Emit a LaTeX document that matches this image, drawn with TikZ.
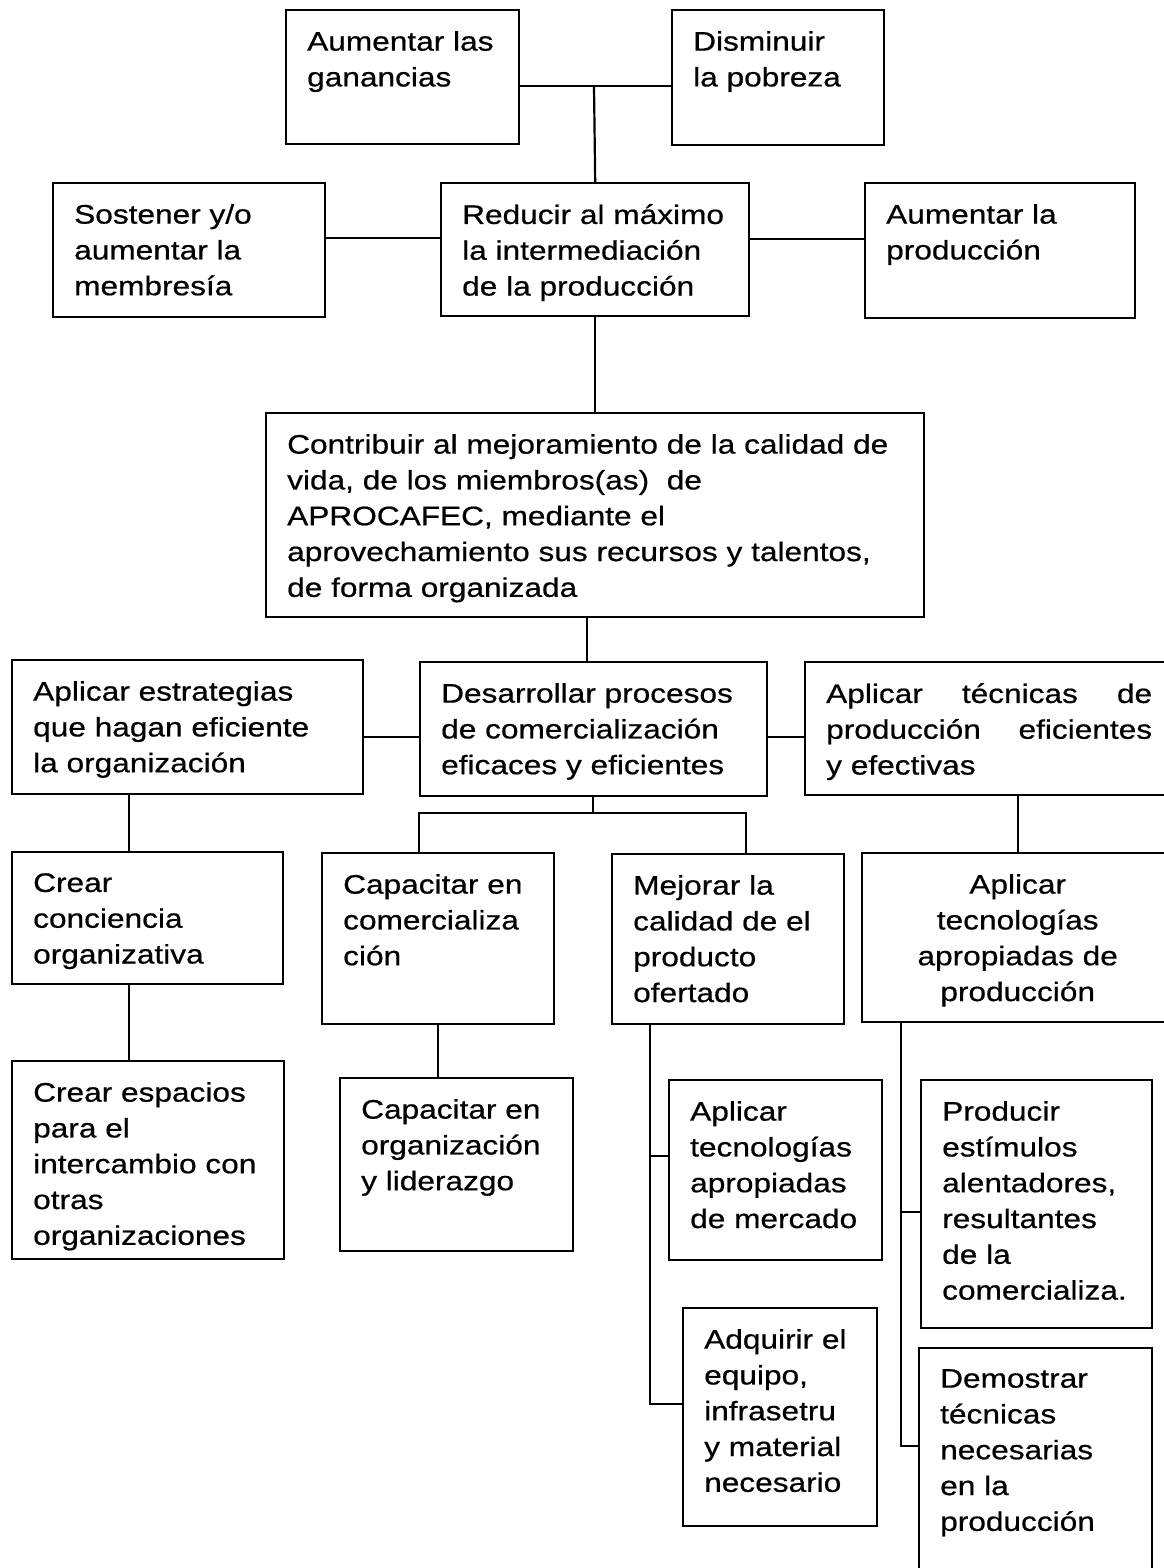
\documentclass[tikz,border=0pt]{standalone}
\usepackage{fontspec}
\setmainfont{Liberation Sans}[FakeStretch=1.18, FakeBold=0.6]
\newlength\obpadx \setlength\obpadx{21pt}
\newlength\obpadt \setlength\obpadt{21pt}
\newcommand\obfont{\fontsize{26.8}{35.8}\selectfont}
\newcommand\obrag{\leftskip=\obpadx\rightskip=0pt plus 1fil\parfillskip=0pt plus 1fil\relax}
\newcommand\obcen{\centering}
\newcommand\objus{\leftskip=\obpadx\rightskip=\obpadx\relax}
\tikzset{
  obox/.style={draw=black, line width=2.4pt, inner sep=0pt, anchor=north west, font=\obfont},
  conn/.style={draw=black, line width=2.2pt}
}
% #1 name, #2 x1, #3 y1, #4 x2, #5 y2, #6 alignment, #7 text
\newcommand\ob[7]{%
  \node[obox] (#1) at (#2,#3) {\parbox[c][\dimexpr #5pt-#3pt\relax][t]{\dimexpr #4pt-#2pt\relax}{\hbadness=10000\vspace*{\obpadt}#6#7}};}
\begin{document}
\begin{tikzpicture}[x=1pt,y=-1pt]
\fill[white] (0,0) rectangle (1163,1568);
\useasboundingbox (0,0) rectangle (1163,1568);
% row 1
\ob{A}{285}{9}{518}{143}{\obrag}{Aumentar las\\ganancias}
\ob{B}{671}{9}{883}{144}{\obrag}{Disminuir\\la pobreza}
% row 2
\ob{D}{52}{182}{324}{316}{\obrag}{Sostener y/o\\aumentar la\\membresía}
\ob{C}{440}{182}{748}{315}{\obrag}{Reducir al máximo\\la intermediación\\de la producción}
\ob{E}{864}{182}{1134}{317}{\obrag}{Aumentar la\\producción}
% row 3
\ob{F}{265}{412}{923}{616}{\obrag}{Contribuir al mejoramiento de la calidad de\\vida, de los miembros(as)\ \ de\\APROCAFEC, mediante el\\aprovechamiento sus recursos y talentos,\\de forma organizada}
% row 4
\ob{G}{11}{659}{362}{793}{\obrag}{Aplicar estrategias\\que hagan eficiente\\la organización}
\ob{H}{419}{661}{766}{795}{\obrag}{Desarrollar procesos\\de comercialización\\eficaces y eficientes}
\ob{I}{804}{661}{1172}{794}{\objus}{Aplicar\hfill técnicas\hfill de\\producción\hfill eficientes\\y efectivas}
% row 5
\ob{J}{11}{851}{282}{983}{\obrag}{Crear\\conciencia\\organizativa}
\ob{K}{321}{852}{553}{1023}{\obrag}{Capacitar en\\comercializa\\ción}
\ob{L}{611}{853}{843}{1023}{\obrag}{Mejorar la\\calidad de el\\producto\\ofertado}
\ob{M}{861}{852}{1172}{1021}{\obcen}{Aplicar\\tecnologías\\apropiadas de\\producción}
% row 6
\ob{N}{11}{1060}{283}{1258}{\obrag}{Crear espacios\\para el\\intercambio con\\otras\\organizaciones}
\ob{O}{339}{1077}{572}{1250}{\obrag}{Capacitar en\\organización\\y liderazgo}
\ob{P}{668}{1079}{881}{1259}{\obrag}{Aplicar\\tecnologías\\apropiadas\\de mercado}
\ob{Q}{920}{1079}{1151}{1327}{\obrag}{Producir\\estímulos\\alentadores,\\resultantes\\de la\\comercializa.}
\ob{R}{682}{1307}{876}{1525}{\obrag}{Adquirir el\\equipo,\\infrasetru\\y material\\necesario}
\ob{S}{918}{1347}{1151}{1590}{\obrag}{Demostrar\\técnicas\\necesarias\\en la\\producción}
% connectors
\coordinate (j1) at (594,86);
\draw[conn] (A.east |- j1) -- (B.west |- j1);
\draw[conn] (j1) -- (C.north);
\coordinate (j2) at (0,238);
\draw[conn] (D.east |- j2) -- (C.west |- j2);
\coordinate (j3) at (0,239);
\draw[conn] (C.east |- j3) -- (E.west |- j3);
\draw[conn] (C.south) -- (F.north);
\coordinate (j4) at (587,0);
\draw[conn] (F.south -| j4) -- (H.north -| j4);
\coordinate (j5) at (0,737);
\draw[conn] (G.east |- j5) -- (H.west |- j5);
\draw[conn] (H.east |- j5) -- (I.west |- j5);
\coordinate (j6) at (129,0);
\draw[conn] (G.south -| j6) -- (J.north -| j6);
\draw[conn] (J.south -| j6) -- (N.north -| j6);
\coordinate (j7) at (593,813);
\coordinate (kl) at (419,813);
\coordinate (kr) at (746,813);
\draw[conn] (H.south -| j7) -- (j7);
\draw[conn] (K.north -| kl) -- (kl) -- (kr) -- (L.north -| kr);
\draw[conn] (I.south -| M.north) -- (M.north);
\draw[conn] (K.south) -- (K.south |- O.north);
\coordinate (lv) at (650,1404);
\coordinate (lp) at (650,1156);
\draw[conn] (L.south -| lv) -- (lv) -- (R.west |- lv);
\draw[conn] (lp) -- (P.west |- lp);
\coordinate (mv) at (901,1446);
\coordinate (mq) at (901,1212);
\draw[conn] (M.south -| mv) -- (mv) -- (S.west |- mv);
\draw[conn] (mq) -- (Q.west |- mq);
\end{tikzpicture}
\end{document}
